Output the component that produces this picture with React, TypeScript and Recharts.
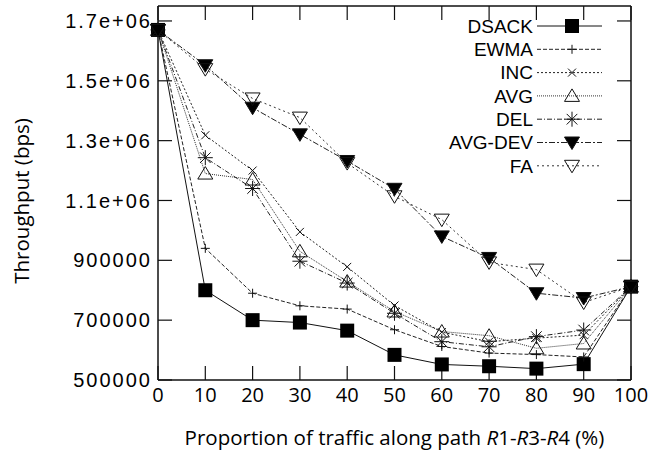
import React from 'react';
import { LineChart, Line, XAxis, YAxis, Legend } from 'recharts';

const xValues = [0, 10, 20, 30, 40, 50, 60, 70, 80, 90, 100];
const xTicks = [0, 10, 20, 30, 40, 50, 60, 70, 80, 90, 100];
const yTicks = [500000, 700000, 900000, 1100000, 1300000, 1500000, 1700000];

const dsack = [1670000, 800000, 700000, 692000, 665000, 584000, 552000, 546000, 538000, 553000, 812000];
const ewma = [1670000, 940000, 790000, 748000, 737000, 668000, 612000, 590000, 585000, 577000, 812000];
const inc = [1670000, 1318000, 1200000, 995000, 878000, 749000, 660000, 628000, 640000, 650000, 812000];
const avg = [1670000, 1190000, 1170000, 930000, 829000, 729000, 662000, 648000, 606000, 622000, 812000];
const del = [1670000, 1243000, 1140000, 897000, 824000, 723000, 628000, 611000, 645000, 667000, 812000];
const avgDev = [1670000, 1552000, 1410000, 1321000, 1232000, 1139000, 980000, 908000, 790000, 774000, 812000];
const fa = [1670000, 1539000, 1441000, 1377000, 1225000, 1114000, 1036000, 893000, 869000, 759000, 812000];

const seriesNames = ['DSACK', 'EWMA', 'INC', 'AVG', 'DEL', 'AVG-DEV', 'FA'];
const seriesValues = [dsack, ewma, inc, avg, del, avgDev, fa];

const seriesStyle: Record<string, { dash: string; marker: string; color: string }> = {
  'DSACK': { dash: '', marker: 'square', color: '#111' },
  'EWMA': { dash: '4 2', marker: 'plus', color: '#222' },
  'INC': { dash: '2 2', marker: 'cross', color: '#222' },
  'AVG': { dash: '1 1', marker: 'tri', color: '#333' },
  'DEL': { dash: '5 2 1 2', marker: 'star', color: '#222' },
  'AVG-DEV': { dash: '6 2 2 2', marker: 'triDownFilled', color: '#222' },
  'FA': { dash: '2 3', marker: 'triDown', color: '#333' },
};

const data = xValues.map((x, i) => {
  const row: Record<string, number> = { x };
  seriesNames.forEach((n, k) => {
    row[n] = seriesValues[k][i];
  });
  return row;
});

const Marker = ({ type, cx, cy }: { type: string; cx: number; cy: number }) => {
  if (cx == null || cy == null) return null;
  const s = '#111';
  switch (type) {
    case 'square':
      return <rect x={cx - 7} y={cy - 7} width={14} height={14} fill="#000" />;
    case 'plus':
      return <path d={`M${cx - 4.5},${cy}H${cx + 4.5}M${cx},${cy - 4.5}V${cy + 4.5}`} stroke={s} strokeWidth={1} fill="none" />;
    case 'cross':
      return <path d={`M${cx - 4},${cy - 4}L${cx + 4},${cy + 4}M${cx - 4},${cy + 4}L${cx + 4},${cy - 4}`} stroke={s} strokeWidth={1} fill="none" />;
    case 'tri':
      return <path d={`M${cx},${cy - 7}L${cx + 7.5},${cy + 5.5}L${cx - 7.5},${cy + 5.5}Z`} stroke={s} strokeWidth={1} fill="none" />;
    case 'star':
      return (
        <path
          d={`M${cx - 7.5},${cy}H${cx + 7.5}M${cx},${cy - 7.5}V${cy + 7.5}M${cx - 5.3},${cy - 5.3}L${cx + 5.3},${cy + 5.3}M${cx - 5.3},${cy + 5.3}L${cx + 5.3},${cy - 5.3}`}
          stroke={s}
          strokeWidth={1}
          fill="none"
        />
      );
    case 'triDownFilled':
      return <path d={`M${cx - 7.5},${cy - 5.5}L${cx + 7.5},${cy - 5.5}L${cx},${cy + 7}Z`} stroke={s} strokeWidth={1} fill="#000" />;
    case 'triDown':
      return <path d={`M${cx - 7.5},${cy - 5.5}L${cx + 7.5},${cy - 5.5}L${cx},${cy + 7}Z`} stroke={s} strokeWidth={1} fill="none" />;
    default:
      return null;
  }
};

const LegendContent = () => {
  const textEnd = 103;
  const lineStart = 107;
  const lineEnd = 172;
  const markX = 142;
  return (
    <svg width={200} height={170} style={{ display: 'block' }}>
      {seriesNames.map((n, i) => {
        const y = 18 + i * 23.3;
        const st = seriesStyle[n];
        return (
          <g key={n}>
            <text
              x={textEnd}
              y={y + 6.8}
              textAnchor="end"
              fontFamily="'Liberation Sans', Arial, sans-serif"
              fontSize={19}
              fill="#000"
            >
              {n}
            </text>
            <line x1={lineStart} x2={lineEnd} y1={y} y2={y} stroke={st.color} strokeWidth={1} strokeDasharray={st.dash || undefined} />
            <Marker type={st.marker} cx={markX} cy={y} />
          </g>
        );
      })}
    </svg>
  );
};

const XLabel = (props: any) => {
  const vb = props.viewBox || {};
  const cx = vb.x + vb.width / 2;
  const y = vb.y + 65;
  return (
    <text x={cx} y={y} textAnchor="middle" fontFamily="'Open Sans', sans-serif" fontSize={20.5} fill="#000">
      Proportion of traffic along path <tspan fontStyle="italic">R</tspan>1-<tspan fontStyle="italic">R</tspan>3-<tspan fontStyle="italic">R</tspan>4 (%)
    </text>
  );
};

const YLabel = (props: any) => {
  const vb = props.viewBox || {};
  const x = vb.x + 29;
  const y = vb.y + vb.height / 2 + 8;
  return (
    <text
      x={x}
      y={y}
      transform={`rotate(-90, ${x}, ${y})`}
      textAnchor="middle"
      fontFamily="'Open Sans', sans-serif"
      fontSize={20.5}
      fill="#000"
    >
      Throughput (bps)
    </text>
  );
};

const EmptyTick = () => <g />;

const fmtY = (v: number) => (v >= 1000000 ? (v / 1000000).toFixed(1) + 'e+06' : String(v));

export default function App() {
  return (
    <div style={{ position: 'absolute', left: 0, top: 0, width: 654, height: 455, background: '#fff' }}>
      <LineChart width={654} height={455} data={data} margin={{ top: 5, right: 22, bottom: 0, left: 0 }}>
        <XAxis
          dataKey="x"
          type="number"
          domain={[0, 100]}
          ticks={xTicks}
          height={75}
          tickSize={-14}
          tickMargin={22}
          axisLine={{ stroke: '#111', strokeWidth: 1.5 }}
          tickLine={{ stroke: '#111', strokeWidth: 1.2 }}
          tick={{ fontFamily: "'Open Sans', sans-serif", fontSize: 20, fill: '#000' }}
          label={XLabel}
        />
        <XAxis
          xAxisId="top"
          dataKey="x"
          orientation="top"
          type="number"
          domain={[0, 100]}
          ticks={xTicks}
          interval={0}
          height={1}
          tickSize={-14}
          tick={EmptyTick}
          axisLine={{ stroke: '#111', strokeWidth: 1.5 }}
          tickLine={{ stroke: '#111', strokeWidth: 1.2 }}
        />
        <YAxis
          type="number"
          domain={[500000, 1750000]}
          ticks={yTicks}
          width={158}
          tickSize={-14}
          tickMargin={20}
          tickFormatter={fmtY}
          axisLine={{ stroke: '#111', strokeWidth: 1.5 }}
          tickLine={{ stroke: '#111', strokeWidth: 1.2 }}
          tick={{ fontFamily: "'Liberation Sans', Arial, sans-serif", fontSize: 20, fill: '#000', letterSpacing: 2 }}
          label={YLabel}
        />
        <YAxis
          yAxisId="right"
          orientation="right"
          type="number"
          domain={[500000, 1750000]}
          ticks={yTicks}
          interval={0}
          width={1}
          tickSize={-14}
          tick={EmptyTick}
          axisLine={{ stroke: '#111', strokeWidth: 1.5 }}
          tickLine={{ stroke: '#111', strokeWidth: 1.2 }}
        />
        <Legend
          layout="vertical"
          align="center"
          verticalAlign="middle"
          wrapperStyle={{ left: 430, top: 8, width: 200, height: 170 }}
          content={LegendContent}
        />
        <Line
          xAxisId="top"
          yAxisId="right"
          dataKey="DSACK"
          stroke="none"
          dot={false}
          activeDot={false}
          legendType="none"
          isAnimationActive={false}
        />
        {seriesNames.map((n) => {
          const st = seriesStyle[n];
          return (
            <Line
              key={n}
              dataKey={n}
              name={n}
              stroke={st.color}
              strokeWidth={1}
              strokeDasharray={st.dash || undefined}
              isAnimationActive={false}
              activeDot={false}
              dot={(p: any) => <Marker key={`${n}-${p.index}`} type={st.marker} cx={p.cx} cy={p.cy} />}
            />
          );
        })}
      </LineChart>
    </div>
  );
}
